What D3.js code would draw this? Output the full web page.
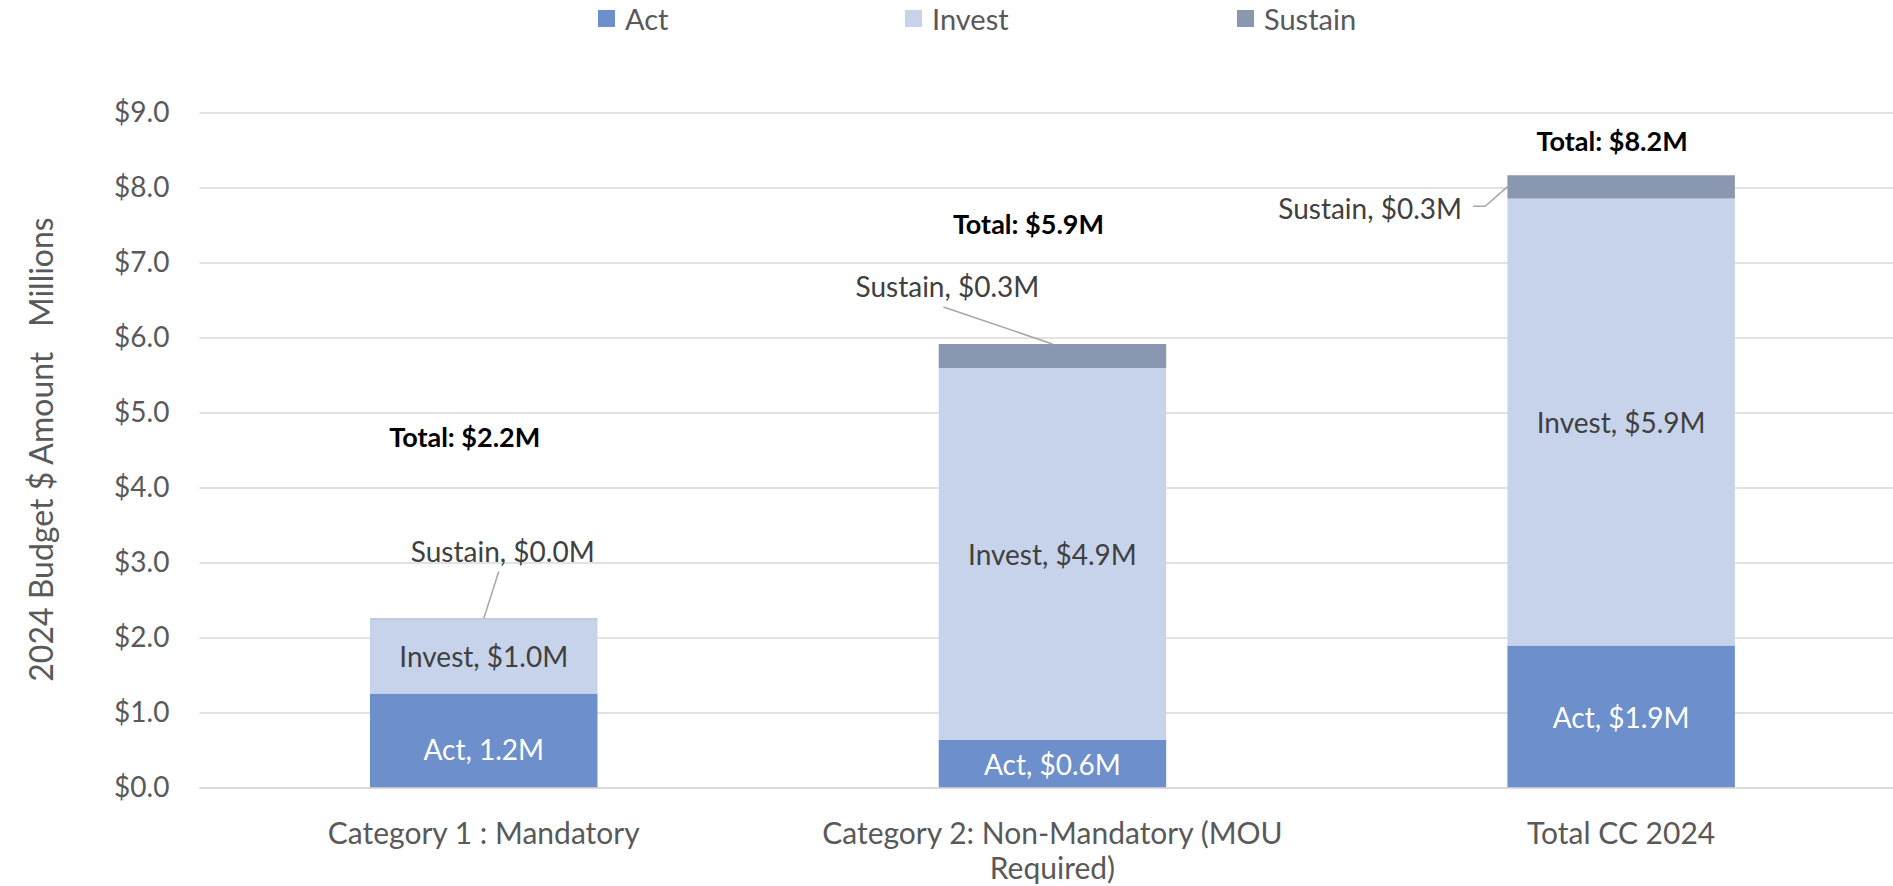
<!DOCTYPE html>
<html>
<head>
<meta charset="utf-8">
<script src="https://cdn.jsdelivr.net/npm/d3@7"></script>
<style>
  html, body { margin: 0; padding: 0; background: #fff; }
  svg { display: block; font-family: Lato, "Open Sans", sans-serif; }
</style>
</head>
<body>
<svg id="chart" width="1893" height="886"></svg>
<script>
// ---- data ----
const categories = ["Category 1 : Mandatory", "Category 2: Non-Mandatory (MOU Required)", "Total CC 2024"];
const seriesNames = ["Act", "Invest", "Sustain"];
const actValues = [1.26, 0.64, 1.90];
const investValues = [0.99, 4.96, 5.96];
const sustainValues = [0.01, 0.32, 0.31];
const actLabels = ["Act, 1.2M", "Act, $0.6M", "Act, $1.9M"];
const investLabels = ["Invest, $1.0M", "Invest, $4.9M", "Invest, $5.9M"];
const sustainLabels = ["Sustain, $0.0M", "Sustain, $0.3M", "Sustain, $0.3M"];
const totalLabels = ["Total: $2.2M", "Total: $5.9M", "Total: $8.2M"];
const yTicks = [0, 1, 2, 3, 4, 5, 6, 7, 8, 9];
const yTitle = "2024 Budget $ Amount   Millions";

// ---- layout (manual annotation placement, relative to bar centre / bar top) ----
const totalOffsets = [[-19, -182], [-24, -121], [-9, -35]];
const sustainTextOffsets = [[19, -68], [-105, -58], [-251, 33]];
const actLabelShift = [8, 0, 0];

const colors = { Act: "#6D8FCB", Invest: "#C7D3EB", Sustain: "#8A97B1" };

const svg = d3.select("#chart");
const plot = { left: 199.4, right: 1905.5, top: 113, bottom: 788 };

const x = d3.scaleBand().domain(categories).range([plot.left, plot.right]).paddingInner(0.6).paddingOuter(0.3);
const y = d3.scaleLinear().domain([0, 9]).range([plot.bottom, plot.top]);

// gridlines
svg.append("g").selectAll("line").data(yTicks).join("line")
  .attr("x1", plot.left).attr("x2", plot.right)
  .attr("y1", d => y(d)).attr("y2", d => y(d))
  .attr("stroke", "#D9D9D9").attr("stroke-width", 1.5);

// y axis labels
const yAxis = d3.axisLeft(y).tickValues(yTicks).tickSize(0).tickPadding(30)
  .tickFormat(d => "$" + d3.format(".1f")(d));
const yg = svg.append("g").attr("transform", `translate(${plot.left},0)`).call(yAxis);
yg.select(".domain").remove();
yg.selectAll("text").attr("fill", "#595959").style("font-size", "28px").style("font-family", "Lato, sans-serif");

// y title
svg.append("text")
  .attr("transform", `translate(40,${(217 + 682) / 2}) rotate(-90)`)
  .attr("text-anchor", "middle").attr("dominant-baseline", "central")
  .attr("fill", "#595959").style("font-size", "32px")
  .style("white-space", "pre")
  .text(yTitle);

// stacked data
const rows = categories.map((c, i) => ({ cat: c, Act: actValues[i], Invest: investValues[i], Sustain: sustainValues[i] }));
const stack = d3.stack().keys(seriesNames)(rows);

svg.append("g").selectAll("g").data(stack).join("g")
  .attr("fill", d => colors[d.key])
  .selectAll("rect").data(d => d).join("rect")
  .attr("x", d => x(d.data.cat))
  .attr("width", x.bandwidth())
  .attr("y", d => y(d[1]))
  .attr("height", d => y(d[0]) - y(d[1]));

// baseline over bars
svg.append("line").attr("x1", plot.left).attr("x2", plot.right)
  .attr("y1", y(0)).attr("y2", y(0)).attr("stroke", "#D9D9D9").attr("stroke-width", 1.5);

// inner labels
const cx = c => x(c) + x.bandwidth() / 2;
function segLabels(layerIdx, labels, color, shift) {
  svg.append("g").selectAll("text").data(stack[layerIdx]).join("text")
    .attr("x", d => cx(d.data.cat))
    .attr("y", (d, i) => (y(d[0]) + y(d[1])) / 2 + (shift ? shift[i] : 0))
    .attr("text-anchor", "middle").attr("dominant-baseline", "central")
    .attr("fill", color).style("font-size", "28px")
    .text((d, i) => labels[i]);
}
segLabels(0, actLabels, "#FFFFFF", actLabelShift);
segLabels(1, investLabels, "#404040");

// sustain labels with leader lines
const sg = svg.append("g");
stack[2].forEach((d, i) => {
  const bx = cx(d.data.cat), top = y(d[1]);
  const tx = bx + sustainTextOffsets[i][0], ty = top + sustainTextOffsets[i][1];
  sg.append("text").attr("x", tx).attr("y", ty)
    .attr("text-anchor", "middle").attr("dominant-baseline", "central")
    .attr("fill", "#404040").style("font-size", "28px").text(sustainLabels[i]);
  let pts;
  if (sustainTextOffsets[i][1] > 0) {
    const left = x(d.data.cat), mid = (y(d[0]) + y(d[1])) / 2;
    const lx = tx + 103;
    pts = [[lx, ty - 2], [lx + 12, ty - 2], [left, mid]];
  } else {
    pts = [[tx - 4, ty + 21], [bx, top]];
  }
  sg.append("path").attr("d", d3.line()(pts))
    .attr("fill", "none").attr("stroke", "#A6A6A6").attr("stroke-width", 1.5);
});

// totals
svg.append("g").selectAll("text").data(stack[2]).join("text")
  .attr("x", (d, i) => cx(d.data.cat) + totalOffsets[i][0])
  .attr("y", (d, i) => y(d[1]) + totalOffsets[i][1])
  .attr("text-anchor", "middle").attr("dominant-baseline", "central")
  .attr("fill", "#000").style("font-size", "27px").style("font-weight", "bold")
  .text((d, i) => totalLabels[i]);

// x category labels (wrapped)
const maxW = 475;
const xg = svg.append("g");
categories.forEach(c => {
  const t = xg.append("text").attr("x", cx(c)).attr("y", 832)
    .attr("text-anchor", "middle").attr("dominant-baseline", "central")
    .attr("fill", "#595959").style("font-size", "30px");
  const words = c.split(" ");
  let line = [];
  let tspan = t.append("tspan").attr("x", cx(c)).attr("dy", 0);
  words.forEach(w => {
    line.push(w);
    tspan.text(line.join(" "));
    if (tspan.node().getComputedTextLength() > maxW && line.length > 1) {
      line.pop();
      tspan.text(line.join(" "));
      line = [w];
      tspan = t.append("tspan").attr("x", cx(c)).attr("dy", 35).text(w);
    }
  });
});

// legend
const legendX = [598, 905, 1237];
const lg = svg.append("g");
seriesNames.forEach((s, i) => {
  lg.append("rect").attr("x", legendX[i]).attr("y", 10).attr("width", 17).attr("height", 17).attr("fill", colors[s]);
  lg.append("text").attr("x", legendX[i] + 27).attr("y", 18.5)
    .attr("dominant-baseline", "central").attr("fill", "#595959").style("font-size", "29px").text(s);
});
</script>
</body>
</html>
